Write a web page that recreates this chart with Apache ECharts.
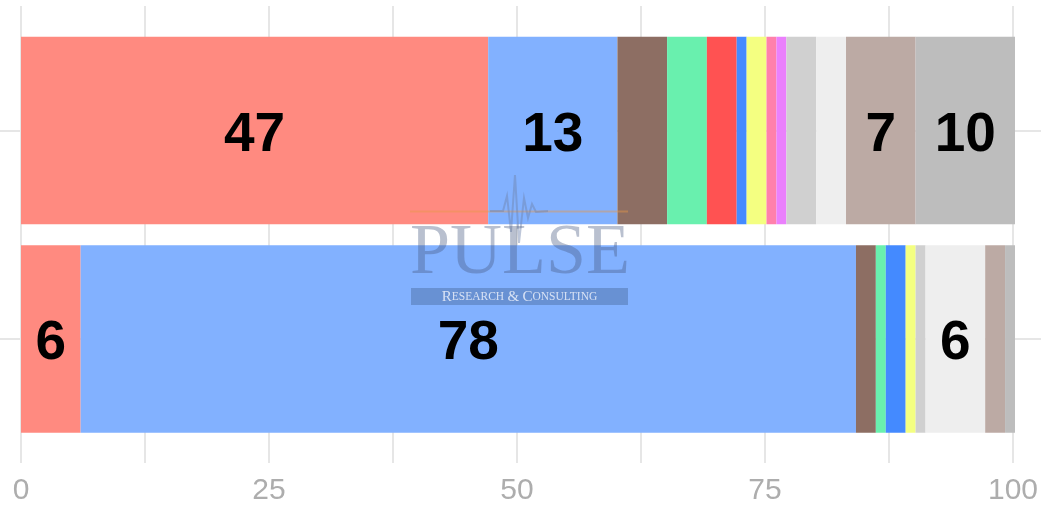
<!DOCTYPE html>
<html>
<head>
<meta charset="utf-8">
<script src="https://cdn.jsdelivr.net/npm/echarts@6/dist/echarts.min.js"></script>
<style>
  html, body { margin: 0; padding: 0; background: #fff; }
  #chart { width: 1041px; height: 506px; }
</style>
</head>
<body>
<div id="chart"></div>
<script>
// two stacked rows, 13 segments each (percent)
const categories = ['Row 1', 'Row 2'];
const segmentNames = ['S1', 'S2', 'S3', 'S4', 'S5', 'S6', 'S7', 'S8', 'S9', 'S10', 'S11', 'S12', 'S13'];
const row1Values = [47, 13, 5, 4, 3, 1, 2, 1, 1, 3, 3, 7, 10];
const row2Values = [6, 78, 2, 1, 0, 2, 1, 0, 0, 1, 6, 2, 1];
const segmentColors = ['#FF8A80', '#82B1FF', '#8D6E63', '#69F0AE', '#FF5252', '#448AFF', '#F4FF81',
  '#FF80AB', '#EA80FC', '#D0D0D0', '#EEEEEE', '#BCAAA4', '#BDBDBD'];
const xTickLabels = [0, 25, 50, 75, 100];

const gridColor = '#E6E6E6';

const series = segmentNames.map((name, i) => ({
  name: name,
  type: 'bar',
  stack: 'total',
  xAxisIndex: 2,
  yAxisIndex: 2,
  barCategoryGap: '10%',
  itemStyle: { color: segmentColors[i] },
  label: {
    show: true,
    position: 'inside',
    offset: [0, 5],
    color: '#000',
    fontFamily: 'Liberation Sans, Arial, sans-serif',
    fontWeight: 'bold',
    fontSize: 55,
    formatter: p => (p.value >= 6 ? String(p.value) : '')
  },
  data: [row1Values[i], row2Values[i]]
}));

// watermark pieces sit above the bars
const wm = { z: 100, silent: true };

const chart = echarts.init(document.getElementById('chart'));
chart.setOption({
  backgroundColor: '#fff',
  animation: false,
  grid: [
    // horizontal guides across the full width
    { left: 0, right: 0, top: 130.5, bottom: 167 },
    // value axis panel
    { left: 21, right: 26, top: 6, bottom: 41 },
    // bars
    { left: 21, right: 26, top: 26.25, bottom: 62.75 }
  ],
  xAxis: [
    { gridIndex: 0, type: 'value', min: 0, max: 1, show: false },
    {
      gridIndex: 1, type: 'value', min: 0, max: 100, interval: 12.5,
      axisLine: { show: false },
      axisTick: { show: false },
      splitLine: { show: true, lineStyle: { color: gridColor, width: 2 } },
      axisLabel: {
        margin: 13,
        color: '#ADADAD',
        fontFamily: 'Liberation Sans, Arial, sans-serif',
        fontSize: 30,
        formatter: v => (xTickLabels.includes(v) ? String(v) : '')
      }
    },
    { gridIndex: 2, type: 'value', min: 0, max: 100, show: false }
  ],
  yAxis: [
    {
      gridIndex: 0, type: 'category', data: categories, boundaryGap: false,
      axisLine: { show: false }, axisTick: { show: false }, axisLabel: { show: false },
      splitLine: { show: true, lineStyle: { color: gridColor, width: 2 } }
    },
    { gridIndex: 1, type: 'value', min: 0, max: 1, show: false },
    {
      gridIndex: 2, type: 'category', data: categories, inverse: true,
      axisLine: { show: false }, axisTick: { show: false }, axisLabel: { show: false },
      splitLine: { show: false }
    }
  ],
  series: series,
  graphic: [
    Object.assign({
      type: 'line',
      shape: { x1: 410, y1: 211.5, x2: 628, y2: 211.5 },
      style: { stroke: 'rgba(230,150,70,0.45)', lineWidth: 2 }
    }, wm),
    Object.assign({
      type: 'polyline',
      shape: { points: [[490, 211], [503, 211], [507, 196], [511, 232], [515, 175], [519, 243], [524, 198], [528, 218], [532, 204], [536, 212], [548, 211]] },
      style: { stroke: 'rgba(110,130,170,0.45)', lineWidth: 2, fill: null }
    }, wm),
    Object.assign({
      type: 'text',
      x: 520, y: 254,
      style: {
        text: 'PULSE',
        font: '72px "Liberation Serif", "DejaVu Serif", serif',
        fill: 'rgba(70,90,130,0.38)',
        align: 'center',
        verticalAlign: 'middle'
      }
    }, wm),
    Object.assign({
      type: 'rect',
      shape: { x: 411, y: 288, width: 217, height: 17 },
      style: { fill: 'rgba(70,100,150,0.42)' }
    }, wm),
    Object.assign({
      type: 'text',
      x: 519.5, y: 297,
      style: {
        text: '{b|R}{s|ESEARCH} {b|&} {b|C}{s|ONSULTING}',
        align: 'center',
        verticalAlign: 'middle',
        rich: {
          b: { font: '15px "Liberation Serif", "DejaVu Serif", serif', fill: 'rgba(235,240,250,0.85)' },
          s: { font: '11.5px "Liberation Serif", "DejaVu Serif", serif', fill: 'rgba(235,240,250,0.85)' }
        }
      }
    }, wm)
  ]
});
</script>
</body>
</html>
